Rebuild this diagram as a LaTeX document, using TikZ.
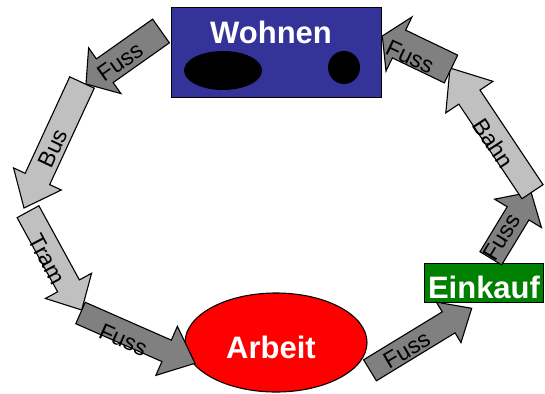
\documentclass[tikz,border=0pt]{standalone}
\usepackage{fontspec}
\setmainfont{Liberation Sans}
\usetikzlibrary{calc,shapes.geometric}

\definecolor{wohnblau}{HTML}{333399}
\definecolor{einkaufgruen}{HTML}{008000}
\definecolor{dunkelgrau}{HTML}{808080}
\definecolor{hellgrau}{HTML}{C0C0C0}

% block arrow: #1 tail centre, #2 tip, #3 shaft half width,
% #4 head half width, #5 head length, #6 fill style
\newcommand\blockarrow[6]{%
  \path ($(#2)!#5!(#1)$) coordinate (neck);
  \filldraw[#6]
    ($(#1)!#3!90:(#2)$) -- ($(neck)!#3!90:(#2)$) -- ($(neck)!#4!90:(#2)$)
    -- (#2)
    -- ($(neck)!#4!-90:(#2)$) -- ($(neck)!#3!-90:(#2)$) -- ($(#1)!#3!-90:(#2)$)
    -- cycle;
}

\begin{document}
\begin{tikzpicture}[x=1pt,y=-1pt,line width=1.1pt,line join=miter,
  dark/.style={draw=black,fill=dunkelgrau},
  light/.style={draw=black,fill=hellgrau},
  lbl/.style={inner sep=0pt,font=\fontsize{23}{23}\selectfont},
  title/.style={anchor=base,inner sep=0pt,text=white,font=\bfseries\fontsize{31}{31}\selectfont}]
\useasboundingbox (0,0) rectangle (545,393);

% places
\node[draw,fill=wohnblau,anchor=north west,minimum width=210pt,minimum height=90pt,inner sep=0pt] (wohnen) at (171,7) {};
\node[title] (wohnentext) at (271,43.5) {Wohnen};
\fill (223,70.5) ellipse [x radius=39,y radius=19.5];
\fill (344,67.5) ellipse [x radius=16,y radius=16.5];

\node[draw,fill=red,ellipse,inner sep=0pt,minimum width=182pt,minimum height=99pt] (arbeit) at (276,342.5) {};
\node[title] (arbeittext) at (271,358.3) {Arbeit};

\node[draw,fill=einkaufgruen,anchor=north west,minimum width=119pt,minimum height=39pt,inner sep=0pt] (einkauf) at (424,263) {};
\node[title] (einkauftext) at (484,298.3) {Einkauf};

% arrow end points
\coordinate (t1) at (161,31);    \coordinate (h1) at (86,84);
\coordinate (t2) at (82,82.5);   \coordinate (h2) at (24,208);
\coordinate (t3) at (28,211.7);  \coordinate (h3) at (81.7,310);
\coordinate (t4) at (80.5,313);  \coordinate (h4) at (195,363.3);
\coordinate (t5) at (370,370.3); \coordinate (h5) at (471.7,308.3);
\coordinate (t6) at (490.8,258.3); \coordinate (h6) at (531,192);
\coordinate (t7) at (532.5,191.7); \coordinate (h7) at (450,68);
\coordinate (t8) at (451,69);    \coordinate (h8) at (382.3,36);

% the trip as a chain of block arrows
\blockarrow{t1}{h1}{14.5pt}{28pt}{23pt}{dark}
\blockarrow{t2}{h2}{13.5pt}{26.3pt}{32pt}{light}
\blockarrow{t3}{h3}{12.4pt}{26.3pt}{27.5pt}{light}
\blockarrow{t4}{h4}{11.7pt}{26.8pt}{31pt}{dark}
\blockarrow{t5}{h5}{12.3pt}{23.7pt}{27pt}{dark}
\blockarrow{t6}{h6}{12.7pt}{27.4pt}{25pt}{dark}
\blockarrow{t7}{h7}{12.7pt}{28.4pt}{35pt}{light}
\blockarrow{t8}{h8}{15.4pt}{30pt}{18.5pt}{dark}

% labels on the arrows
\node[lbl,rotate=35]    (l1) at (120,62)      {Fuss};
\node[lbl,rotate=65]    (l2) at (53.3,148.3)  {Bus};
\node[lbl,rotate=-62]   (l3) at (46.5,259)    {Tram};
\node[lbl,rotate=-23.7] (l4) at (123.3,340)   {Fuss};
\node[lbl,rotate=30.4]  (l5) at (406.7,350)   {Fuss};
\node[lbl,rotate=59]    (l6) at (501.7,236.7) {Fuss};
\node[lbl,rotate=-56.5] (l7) at (493.3,143.3) {Bahn};
\node[lbl,rotate=-25]   (l8) at (410,56.7)    {Fuss};
\end{tikzpicture}
\end{document}
